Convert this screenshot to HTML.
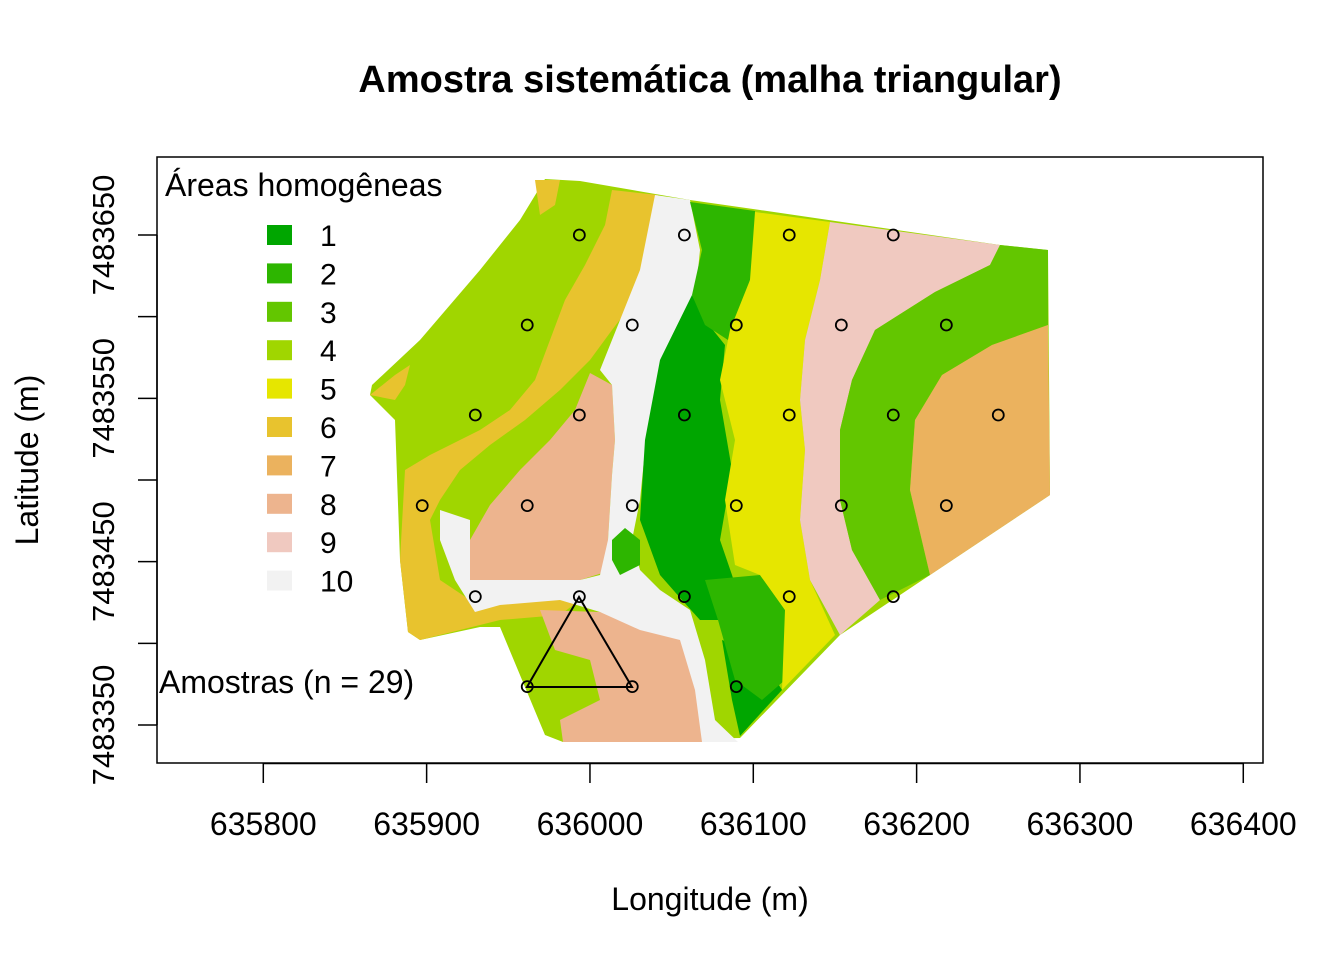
<!DOCTYPE html>
<html><head><meta charset="utf-8"><style>
body{margin:0;background:#fff}
svg{display:block;font-family:"Liberation Sans",sans-serif}
</style></head><body>
<svg id="chart" width="1344" height="960" viewBox="0 0 1344 960">
<text x="710" y="92" text-anchor="middle" font-size="38" font-weight="bold">Amostra sistemática (malha triangular)</text>
<g id="map">
<polygon fill="#A0D600" points="545,179 580,181 690,200 760,210 1000,245 1048,250 1050,495 930,575 840,635 740,738 563,742 545,735 500,627 480,627 420,640 408,632 400,560 395,420 370,395 372,385 420,340 480,270 520,220"/>
<polygon fill="#E8C32E" points="612,190 658,195 648,260 635,300 612,330 590,360 560,390 525,420 490,445 460,470 440,500 430,520 440,580 470,600 520,600 580,600 560,615 500,620 420,640 408,632 400,560 405,470 430,455 480,430 510,410 535,380 550,340 565,300 585,265 605,225"/>
<polygon fill="#E8C32E" points="535,180 560,180 555,205 540,215"/>
<polygon fill="#E8C32E" points="370,395 395,375 410,365 405,385 395,400"/>
<polygon fill="#EDB48E" points="590,373 612,385 615,440 612,475 608,540 612,570 580,580 520,580 470,582 470,540 490,505 520,470 550,440 575,410"/>
<polygon fill="#EDB48E" points="540,610 600,612 640,625 690,630 700,700 712,742 563,742 560,720 600,700 590,660 555,650"/>
<polygon fill="#F2F2F2" points="655,195 690,200 700,250 695,300 670,340 655,400 645,450 640,500 632,540 640,570 660,590 690,610 705,660 715,720 738,742 702,742 695,690 680,640 640,630 600,612 560,600 500,605 475,612 455,580 440,540 440,510 470,520 470,580 520,580 580,580 600,575 608,540 612,475 615,440 612,385 600,370 620,320 640,270"/>
<polygon fill="#00A600" points="692,295 705,320 725,345 720,400 732,470 720,540 732,575 740,600 720,620 700,620 682,600 660,575 640,520 645,440 660,360"/>
<polygon fill="#00A600" points="722,640 760,655 782,690 740,736 732,700"/>
<polygon fill="#2DB600" points="690,202 755,211 755,260 745,300 728,340 705,325 692,295 702,250"/>
<polygon fill="#2DB600" points="705,580 760,575 785,610 785,680 762,700 735,680 718,620"/>
<polygon fill="#2DB600" points="612,540 625,528 640,540 640,565 620,575 612,560"/>
<polygon fill="#E6E600" points="755,212 830,222 820,280 805,340 800,400 805,450 800,520 810,580 835,635 782,690 785,610 760,575 735,565 725,500 735,440 720,380 730,330 750,280"/>
<polygon fill="#F0C9C0" points="830,222 1000,245 990,265 935,292 875,330 852,380 840,430 840,500 852,550 880,600 840,635 810,580 800,520 805,450 800,400 805,340 820,280"/>
<polygon fill="#63C600" points="1000,245 1048,250 1048,325 992,345 942,375 915,420 910,490 930,575 880,600 852,550 840,500 840,430 852,380 875,330 935,292 990,265"/>
<polygon fill="#EBB25E" points="1048,325 1050,495 930,575 910,490 915,420 942,375 992,345"/>
</g>
<rect x="157" y="157" width="1106" height="606" fill="none" stroke="#000" stroke-width="1.5"/>
<g id="xaxis"></g>
<g id="yaxis"></g>
<text x="710" y="910" text-anchor="middle" font-size="32">Longitude (m)</text>
<text transform="translate(38,460) rotate(-90)" text-anchor="middle" font-size="32">Latitude (m)</text>
<polygon points="579,597 527,687 632,687" fill="none" stroke="#000" stroke-width="2"/>
<g id="points"></g>
<g id="legend">
<text x="165" y="196" font-size="32">Áreas homogêneas</text>
</g>
<text x="159" y="693" font-size="32">Amostras (n = 29)</text>
</svg>
<script>
const xTicks=[635800,635900,636000,636100,636200,636300,636400];
const yTicks=[7483350,7483400,7483450,7483500,7483550,7483600,7483650];
const yLabels=[7483350,7483450,7483550,7483650];
const ptX=[635993.5,636057.8,636122.0,636185.7,
635961.6,636025.9,636089.6,636153.9,636218.2,
635929.8,635993.5,636057.8,636122.0,636185.7,636250.0,
635897.3,635961.6,636025.9,636089.6,636153.9,636218.2,
635929.8,635993.5,636057.8,636122.0,636185.7,
635961.6,636025.9,636089.6];
const ptY=[7483650,7483650,7483650,7483650,
7483594.9,7483594.9,7483594.9,7483594.9,7483594.9,
7483539.8,7483539.8,7483539.8,7483539.8,7483539.8,7483539.8,
7483484.3,7483484.3,7483484.3,7483484.3,7483484.3,7483484.3,
7483428.6,7483428.6,7483428.6,7483428.6,7483428.6,
7483373.5,7483373.5,7483373.5];
const legendLabels=["1","2","3","4","5","6","7","8","9","10"];
const legendColors=["#00A600","#2DB600","#63C600","#A0D600","#E6E600","#E8C32E","#EBB25E","#EDB48E","#F0C9C0","#F2F2F2"];
const NS="http://www.w3.org/2000/svg";
const sx=v=>263.3+(v-635800)*1.6333;
const sy=v=>235+(7483650-v)*1.6333;
function mk(t,a,p){const e=document.createElementNS(NS,t);for(const k in a)e.setAttribute(k,a[k]);p.appendChild(e);return e;}
const xa=document.getElementById('xaxis');
mk('line',{x1:sx(xTicks[0]),x2:sx(xTicks[xTicks.length-1]),y1:763.5,y2:763.5,stroke:'#000','stroke-width':1.5},xa);
xTicks.forEach(v=>{
 const l=mk('line',{x1:sx(v),x2:sx(v),y1:763,y2:783,stroke:'#000','stroke-width':1.5},xa);
 
 
 const t=mk('text',{x:sx(v),y:835,'text-anchor':'middle','font-size':32},xa);
 t.textContent=v;
 
 
});
const ya=document.getElementById('yaxis');
mk('line',{x1:157,x2:157,y1:sy(yTicks[0]),y2:sy(yTicks[yTicks.length-1]),stroke:'#000','stroke-width':1.5},ya);
yTicks.forEach(v=>{
 const l=mk('line',{x1:138,x2:157,y1:sy(v),y2:sy(v),stroke:'#000','stroke-width':1.5},ya);
 
 
});
yLabels.forEach(v=>{
 const t=mk('text',{transform:`translate(114,${sy(v)}) rotate(-90)`,'text-anchor':'middle','font-size':31},ya);
 t.textContent=v;
 
 
});
const pg=document.getElementById('points');
ptX.forEach((x,i)=>{
 const c=mk('circle',{cx:sx(x),cy:sy(ptY[i]),r:5.5,fill:'none',stroke:'#000','stroke-width':1.8},pg);
 
 
});
const lg=document.getElementById('legend');
legendLabels.forEach((lab,i)=>{
 const y=235+i*38.4;
 const r=mk('rect',{x:267,y:y-10,width:25,height:20,fill:legendColors[i]},lg);
 
 
 const t=mk('text',{x:320,y:y+11,'font-size':30},lg);
 t.textContent=lab;
 
 
});
</script>
</body></html>
